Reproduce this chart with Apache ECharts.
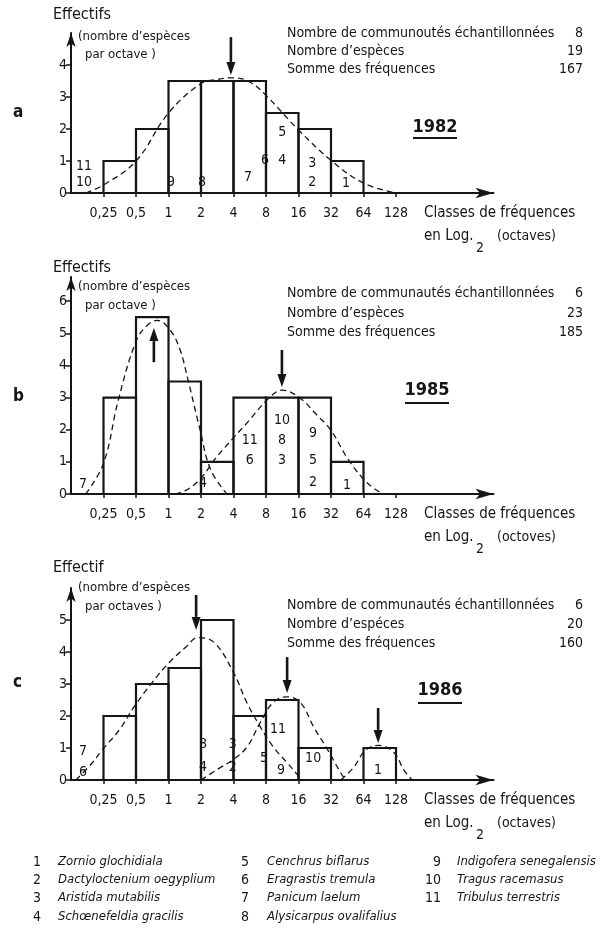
<!DOCTYPE html>
<html>
<head>
<meta charset="utf-8">
<script src="https://cdn.jsdelivr.net/npm/echarts@6/dist/echarts.min.js"></script>
<style>
  html, body { margin: 0; padding: 0; background: #fff; }
  #chart { width: 605px; height: 930px; }
</style>
</head>
<body>
<div id="chart"></div>
<script>
// octave classes on the x axis (position 1 = 0,25 ... 10 = 128)
var xTicks = ['0,25', '0,5', '1', '2', '4', '8', '16', '32', '64', '128'];

// number of species per octave, bin i goes from position i to i+1
var bars1982 = [0, 1, 2, 3.5, 3.5, 3.5, 2.5, 2, 1, 0];
var bars1985 = [0, 3, 5.5, 3.5, 1, 3, 3, 3, 1, 0];
var bars1986 = [0, 2, 3, 3.5, 5, 2, 2.5, 1, 0, 1];

// dashed fitted curves [position, effectif]
var curve1982 = [[0.45, 0], [1, 0.25], [2, 1.0], [3, 2.5], [4, 3.42], [4.5, 3.55], [5, 3.6], [5.5, 3.47], [6, 3.05], [7, 1.97], [8, 1.02], [9, 0.31], [10, 0]];
var curve1985a = [[0.45, 0], [1, 0.95], [1.45, 2.9], [2, 4.75], [2.35, 5.25], [2.65, 5.4], [3.05, 5.1], [3.35, 4.5], [3.6, 3.55], [3.97, 2.0], [4.3, 0.75], [4.8, 0]];
var curve1985b = [[3.2, 0], [3.6, 0.15], [4.05, 0.55], [4.4, 1.05], [5, 1.75], [5.45, 2.25], [6.03, 2.92], [6.5, 3.23], [7.05, 2.98], [7.57, 2.45], [8, 1.98], [8.5, 1.12], [8.95, 0.52], [9.3, 0.19], [9.6, 0]];
var curve1986a = [[0.15, 0], [0.65, 0.53], [0.96, 0.94], [1.49, 1.57], [1.95, 2.3], [2.5, 3.05], [3.03, 3.68], [3.56, 4.18], [3.9, 4.45], [4.4, 4.3], [4.98, 3.4], [5.42, 2.4], [5.82, 1.67], [6.22, 1.04], [6.66, 0.53], [6.97, 0.16], [7.1, 0]];
var curve1986b = [[4.0, 0], [4.58, 0.38], [4.98, 0.63], [5.42, 1.04], [5.82, 1.79], [6.22, 2.42], [6.65, 2.6], [7.06, 2.42], [7.46, 1.67], [7.9, 0.94], [8.3, 0.22], [8.45, 0]];
var curve1986c = [[8.3, 0], [8.7, 0.4], [9.07, 0.94], [9.47, 1.08], [9.94, 0.85], [10.25, 0.3], [10.5, 0]];

// species numbers written in the bars [position, effectif, species]
var species1982 = [[0.4, 0.84, '11'], [0.4, 0.34, '10'], [3.08, 0.34, '9'], [4.03, 0.34, '8'], [5.45, 0.5, '7'], [5.97, 1.03, '6'], [6.5, 1.03, '4'], [6.5, 1.88, '5'], [7.42, 0.94, '3'], [7.42, 0.34, '2'], [8.46, 0.31, '1']];
var species1985 = [[0.37, 0.31, '7'], [4.06, 0.34, '4'], [5.5, 1.68, '11'], [5.5, 1.06, '6'], [6.49, 2.3, '10'], [6.49, 1.68, '8'], [6.49, 1.06, '3'], [7.45, 1.89, '9'], [7.45, 1.06, '5'], [7.45, 0.37, '2'], [8.49, 0.28, '1']];
var species1986 = [[0.37, 0.88, '7'], [0.37, 0.25, '6'], [4.06, 1.1, '8'], [4.06, 0.38, '4'], [4.98, 1.1, '3'], [4.98, 0.38, '2'], [5.94, 0.69, '5'], [6.46, 0.31, '9'], [6.37, 1.57, '11'], [7.45, 0.69, '10'], [9.45, 0.31, '1']];

// mode arrows [position, from, to]
var arrows1982 = [[4.92, 4.87, 3.69]];
var arrows1985 = [[2.55, 4.1, 5.16], [6.49, 4.48, 3.33]];
var arrows1986 = [[3.85, 5.78, 4.69], [6.65, 3.84, 2.72], [9.45, 2.25, 1.16]];

// summary text
var statLabels1982 = ['Nombre de communoutés échantillonnées', 'Nombre d’espèces', 'Somme des fréquences'];
var statLabels1985 = ['Nombre de communautés échantillonnées', 'Nombre d’espèces', 'Somme des fréquences'];
var statLabels1986 = ['Nombre de communautés échantillonnées', 'Nombre d’espéces', 'Somme des fréquences'];
var statValues1982 = ['8', '19', '167'];
var statValues1985 = ['6', '23', '185'];
var statValues1986 = ['6', '20', '160'];

// species legend
var legendNums = ['1', '2', '3', '4', '5', '6', '7', '8', '9', '10', '11'];
var legendNames = ['Zornio glochidiala', 'Dactyloctenium oegyplium', 'Aristida mutabilis', 'Schœnefeldia gracilis',
	'Cenchrus biflarus', 'Eragrastis tremula', 'Panicum laelum', 'Alysicarpus ovalifalius',
	'Indigofera senegalensis', 'Tragus racemasus', 'Tribulus terrestris'];

var FONT = '"DejaVu Sans Condensed", "Liberation Sans Narrow", "Liberation Sans", sans-serif';
var INK = '#151515';

var panels = [{
		letter: 'a', year: '1982', top: 33, height: 160, ymax: 5, yticks: [0, 1, 2, 3, 4],
		bars: bars1982, curves: [curve1982], species: species1982, arrows: arrows1982,
		statLabels: statLabels1982, statValues: statValues1982, statY: [33, 51, 69],
		yearPos: [435, 127], yearLine: [413, 457, 138], letterY: 113,
		yTitle: ['Effectifs', '(nombre d’espèces', 'par octave )'], yTitleY: [15, 37, 55], octaves: '(octaves)'
	},
	{
		letter: 'b', year: '1985', top: 277, height: 217, ymax: 6.75, yticks: [0, 1, 2, 3, 4, 5, 6],
		bars: bars1985, curves: [curve1985a, curve1985b], species: species1985, arrows: arrows1985,
		statLabels: statLabels1985, statValues: statValues1985, statY: [293, 313, 332],
		yearPos: [427, 390], yearLine: [405, 449, 403], letterY: 397,
		yTitle: ['Effectifs', '(nombre d’espèces', 'par octave )'], yTitleY: [268, 287, 306], octaves: '(octoves)'
	},
	{
		letter: 'c', year: '1986', top: 588, height: 192, ymax: 6, yticks: [0, 1, 2, 3, 4, 5],
		bars: bars1986, curves: [curve1986a, curve1986b, curve1986c], species: species1986, arrows: arrows1986,
		statLabels: statLabels1986, statValues: statValues1986, statY: [605, 624, 643],
		yearPos: [440, 690], yearLine: [418, 462, 703], letterY: 683,
		yTitle: ['Effectif', '(nombre d’espèces', 'par octaves )'], yTitleY: [568, 588, 607], octaves: '(octaves)'
	}
];

function txt(text, x, y, opts) {
	opts = opts || {};
	return {
		type: 'text',
		x: x,
		y: y,
		silent: true,
		style: {
			text: text,
			font: (opts.style || '') + ' ' + (opts.weight || 'normal') + ' ' + (opts.size || 14) + 'px ' + FONT,
			fill: INK,
			textAlign: opts.align || 'left',
			align: opts.align || 'left',
			textVerticalAlign: 'middle',
			verticalAlign: 'middle'
		}
	};
}

var grids = [], xAxes = [], yAxes = [], series = [], graphics = [];
var left = 71, unitX = 32.5;

panels.forEach(function(p, k) {
	grids.push({ left: left, top: p.top, width: unitX * 13, height: p.height });
	xAxes.push({
		gridIndex: k, type: 'value', min: 0, max: 13,
		axisLine: { show: true, symbol: ['none', 'arrow'], symbolSize: [8, 18], lineStyle: { color: INK, width: 2 } },
		axisTick: { show: true, customValues: [1, 2, 3, 4, 5, 6, 7, 8, 9, 10], length: 4, lineStyle: { color: INK, width: 1.5 } },
		axisLabel: {
			customValues: [1, 2, 3, 4, 5, 6, 7, 8, 9, 10], margin: 13, color: INK, fontSize: 14, fontFamily: FONT,
			formatter: function(v) { return xTicks[Math.round(v) - 1]; }
		},
		splitLine: { show: false }
	});
	yAxes.push({
		gridIndex: k, type: 'value', min: 0, max: p.ymax,
		axisLine: { show: true, symbol: ['none', 'arrow'], symbolSize: [7, 14], lineStyle: { color: INK, width: 2 } },
		axisTick: { show: true, customValues: p.yticks, length: 5, lineStyle: { color: INK, width: 1.5 } },
		axisLabel: { customValues: p.yticks, margin: 4, color: INK, fontSize: 14, fontFamily: FONT },
		splitLine: { show: false }
	});

	// histogram
	var barData = [];
	for (var i = 0; i < p.bars.length; i++) {
		if (p.bars[i] > 0) barData.push([i, i + 1, p.bars[i]]);
	}
	series.push({
		type: 'custom', xAxisIndex: k, yAxisIndex: k, silent: true,
		data: barData,
		encode: { x: [0, 1], y: 2 },
		renderItem: function(params, api) {
			var p0 = api.coord([api.value(0), api.value(2)]);
			var p1 = api.coord([api.value(1), 0]);
			return {
				type: 'rect',
				shape: { x: p0[0], y: p0[1], width: p1[0] - p0[0], height: p1[1] - p0[1] },
				style: { fill: 'none', stroke: INK, lineWidth: 2.2 }
			};
		}
	});

	// dashed curves
	p.curves.forEach(function(c) {
		series.push({
			type: 'line', xAxisIndex: k, yAxisIndex: k, silent: true,
			data: c, smooth: 0.4, showSymbol: false, symbol: 'none',
			lineStyle: { color: INK, width: 1.3, type: [6, 4] }
		});
	});

	// species numbers (species ids sit in the bins as text)
	series.push({
		type: 'custom', xAxisIndex: k, yAxisIndex: k, silent: true,
		data: p.species,
		encode: { x: 0, y: 1 },
		renderItem: function(params, api) {
			var pt = api.coord([api.value(0), api.value(1)]);
			return {
				type: 'text',
				x: pt[0],
				y: pt[1],
				style: {
					text: p.species[params.dataIndex][2],
					font: '14px ' + FONT,
					fill: INK,
					align: 'center',
					verticalAlign: 'middle'
				}
			};
		}
	});

	// arrows
	series.push({
		type: 'custom', xAxisIndex: k, yAxisIndex: k, silent: true,
		data: p.arrows,
		encode: { x: 0, y: [1, 2] },
		renderItem: function(params, api) {
			var a = api.coord([api.value(0), api.value(1)]);
			var b = api.coord([api.value(0), api.value(2)]);
			var dir = b[1] > a[1] ? 1 : -1;
			var hl = 13, hw = 4.5;
			return {
				type: 'group',
				children: [{
					type: 'line',
					shape: { x1: a[0], y1: a[1], x2: b[0], y2: b[1] - dir * hl },
					style: { stroke: INK, lineWidth: 2.6 }
				}, {
					type: 'polygon',
					shape: { points: [[b[0], b[1]], [b[0] - hw, b[1] - dir * hl], [b[0] + hw, b[1] - dir * hl]] },
					style: { fill: INK }
				}]
			};
		}
	});

	// texts around the panel
	var y0 = p.top + p.height;
	graphics.push(txt(p.letter, 13, p.letterY, { size: 17, weight: 'bold' }));
	graphics.push(txt(p.yTitle[0], 53, p.yTitleY[0], { size: 16 }));
	graphics.push(txt(p.yTitle[1], 78, p.yTitleY[1], { size: 13 }));
	graphics.push(txt(p.yTitle[2], 85, p.yTitleY[2], { size: 13 }));
	for (var j = 0; j < 3; j++) {
		graphics.push(txt(p.statLabels[j], 287, p.statY[j], { size: 14 }));
		graphics.push(txt(p.statValues[j], 583, p.statY[j], { size: 14, align: 'right' }));
	}
	graphics.push(txt(p.year, p.yearPos[0], p.yearPos[1], { size: 18, weight: 'bold', align: 'center' }));
	graphics.push({
		type: 'line', silent: true,
		shape: { x1: p.yearLine[0], y1: p.yearLine[2], x2: p.yearLine[1], y2: p.yearLine[2] },
		style: { stroke: INK, lineWidth: 2 }
	});
	graphics.push(txt('Classes de fréquences', 424, y0 + 20, { size: 15 }));
	graphics.push(txt('en Log.', 424, y0 + 43, { size: 15 }));
	graphics.push(txt('2', 476, y0 + 55, { size: 14 }));
	graphics.push(txt(p.octaves, 497, y0 + 43, { size: 14 }));
});

// legend of species
var legCols = [[41, 58], [249, 267], [441, 457]];
var legRows = [862, 880, 898, 917];
for (var n = 0; n < legendNums.length; n++) {
	var col = Math.floor(n / 4), row = n % 4;
	graphics.push(txt(legendNums[n], legCols[col][0], legRows[row], { size: 14, align: 'right' }));
	graphics.push(txt(legendNames[n], legCols[col][1], legRows[row], { size: 13, style: 'italic' }));
}

var myChart = echarts.init(document.getElementById('chart'), null, { renderer: 'canvas' });
var option = {
	animation: false,
	backgroundColor: '#fff',
	grid: grids,
	xAxis: xAxes,
	yAxis: yAxes,
	series: series,
	graphic: graphics
};
myChart.setOption(option);
</script>
</body>
</html>
